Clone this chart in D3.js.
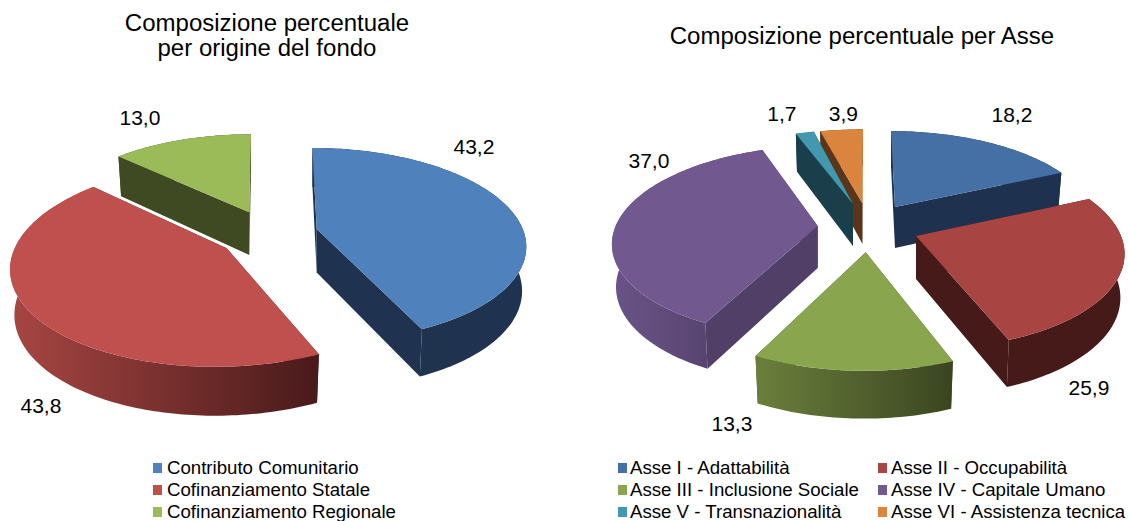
<!DOCTYPE html>
<html><head><meta charset="utf-8">
<script src="https://cdnjs.cloudflare.com/ajax/libs/d3/7.8.5/d3.min.js"></script>
<style>html,body{margin:0;padding:0;background:#fff;overflow:hidden}svg{display:block}text{font-family:"Liberation Sans",Arial,sans-serif;fill:#000}</style>
</head><body><svg id="c" width="1128" height="521"></svg>
<script>
// ---- data ----
const fundCategories = ["Contributo Comunitario","Cofinanziamento Statale","Cofinanziamento Regionale"];
const fundValues = [43.2,43.8,13.0];
const axisCategories = ["Asse I - Adattabilità","Asse II - Occupabilità","Asse III - Inclusione Sociale","Asse IV - Capitale Umano","Asse V - Transnazionalità","Asse VI - Assistenza tecnica"];
const axisValues = [18.2,25.9,13.3,37.0,1.7,3.9];
const fundTitle = ["Composizione percentuale","per origine del fondo"];
const axisTitle = ["Composizione percentuale per Asse"];

// ---- styling / layout ----
const fundStyle = [
 {top:"#4f81bd",side:"#1f3350",wall:["#20354f","#1f3250"]},
 {top:"#c0504d",side:"#4a1a1a",wall:["#a84643","#481a1a"]},
 {top:"#9bbb59",side:"#3f4a22",wall:["#3f4a22","#3f4a22"]}];
const axisStyle = [
 {top:"#4470a5",side:"#1e3250",wall:["#1e3250","#1e3250"]},
 {top:"#a84442",side:"#451a18",wall:["#451a18","#451a18"]},
 {top:"#89a54e",side:"#3f4a20",wall:["#6b7f3c","#3a4520"]},
 {top:"#71588f",side:"#523f68",wall:["#6a5488","#4e3b63"]},
 {top:"#4198af",side:"#1a3f4b",wall:["#1a3f4b","#1a3f4b"]},
 {top:"#db843d",side:"#5a3518",wall:["#5a3518","#5a3518"]}];
const fundGeom = [
 {ax:316.7,ay:229,rx:206,ry:94,sk:-5,d:43.5,lx:474,ly:154},
 {ax:226.7,ay:248.3,rx:212,ry:99.5,sk:10,d:44.5,lx:41,ly:413},
 {ax:249.3,ay:212.3,rx:201,ry:90.5,sk:2,d:42.7,lx:140,ly:125}];
const axisGeom = [
 {ax:895,ay:207,rx:197,ry:88,sk:-4.6,d:41,lx:1012,ly:122},
 {ax:916,ay:236,rx:205,ry:95,sk:-5,d:43,lx:1089,ly:395},
 {ax:865.7,ay:252.3,rx:208,ry:99.5,sk:1.3,d:43.5,lx:732,ly:431},
 {ax:817.7,ay:226,rx:202,ry:93,sk:6.4,d:42,lx:649,ly:168},
 {ax:853,ay:204,rx:200,ry:86,sk:3.4,d:42,lx:782,ly:121},
 {ax:862.5,ay:203.5,rx:204,ry:86,sk:0.6,d:40.5,lx:843.5,ly:121}];
const persp = 0.16;
const svg = d3.select("#c"), defs = svg.append("defs");
const pathOf = d3.line().x(p=>p[0]).y(p=>p[1]);
let gid = 0;

function stretch(sel,f){
  sel.attr("lengthAdjust","spacingAndGlyphs").attr("textLength",sel.node().getComputedTextLength()*f);
  return sel;
}

function drawPie(values, styles, geoms, order){
  const arcs = d3.pie().sort(null).value(d=>d)(values);
  const g = svg.append("g");
  order.forEach(i=>{
    const a = arcs[i], s = styles[i], q = geoms[i];
    const top = t=>{
      const u=Math.sin(t), v=Math.cos(t), f=1/(1+persp*v);
      return [q.ax+(q.rx*u+q.sk*v)*f, q.ay-q.ry*v*f, v];
    };
    const low = p=>[p[0]+(q.ax-p[0])*0.02, p[1]+q.d*(1-0.1*p[2])];
    const n = Math.max(4,Math.ceil((a.endAngle-a.startAngle)/0.02));
    const ts = d3.range(n+1).map(k=>a.startAngle+(a.endAngle-a.startAngle)*k/n);
    const rim = ts.map(top);
    const apex = [q.ax,q.ay,0];
    const lowApex = low(apex);
    const gr = g.append("g");
    [rim[0],rim[rim.length-1]].forEach(e=>{
      gr.append("path").attr("d",pathOf([apex,e,low(e),lowApex])+"Z").attr("fill",s.side);
    });
    const ext = d3.extent(rim,p=>p[0]);
    const id="w"+(gid++);
    const lg = defs.append("linearGradient").attr("id",id).attr("gradientUnits","userSpaceOnUse")
      .attr("x1",ext[0]).attr("x2",ext[1]).attr("y1",0).attr("y2",0);
    lg.append("stop").attr("offset",0).attr("stop-color",s.wall[0]);
    lg.append("stop").attr("offset",1).attr("stop-color",s.wall[1]);
    gr.append("path").attr("d",pathOf(rim.concat(rim.map(low).reverse()))+"Z").attr("fill","url(#"+id+")");
    gr.append("path").attr("d",pathOf([apex].concat(rim))+"Z").attr("fill",s.top);
    stretch(svg.append("text").attr("x",q.lx-20.5*(d3.format(".1f")(values[i]).length>3?1:0.72)).attr("y",q.ly)
      .attr("font-size",20).text(d3.format(".1f")(values[i]).replace(".",",")),1.05);
  });
}
drawPie(fundValues,fundStyle,fundGeom,[2,0,1]);
drawPie(axisValues,axisStyle,axisGeom,[5,4,0,3,1,2]);

// titles
function title(t,cx,y){
  const e = svg.append("text").attr("y",y).attr("font-size",23).text(t);
  const w = e.node().getComputedTextLength()*1.044;
  e.attr("x",cx-w/2).attr("lengthAdjust","spacingAndGlyphs").attr("textLength",w);
}
fundTitle.forEach((t,i)=>title(t,267,31+i*25));
axisTitle.forEach(t=>title(t,862,44));

// legends
const rowY = d3.scalePoint().domain([0,1,2]).range([468,512]);
function legendItem(x,tx,row,label,color){
  svg.append("rect").attr("x",x).attr("y",rowY(row)-5).attr("width",9).attr("height",10).attr("fill",color);
  stretch(svg.append("text").attr("x",tx).attr("y",rowY(row)+6).attr("font-size",17.5).text(label),1.065);
}
fundCategories.forEach((c,i)=>legendItem(153,167,i,c,fundStyle[i].top));
axisCategories.forEach((c,i)=>legendItem(i%2?878:618,i%2?891:630,Math.floor(i/2),c,axisStyle[i].top));
</script></body></html>
